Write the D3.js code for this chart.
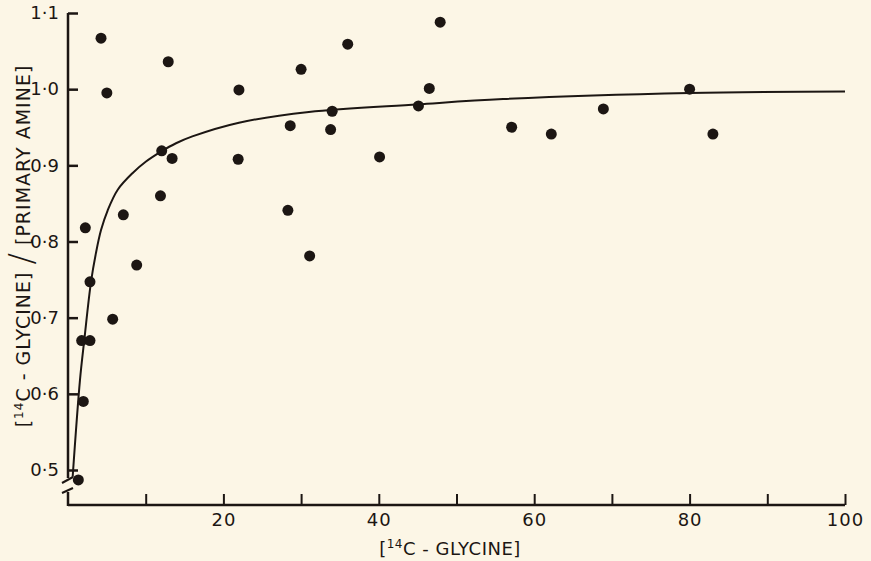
<!DOCTYPE html>
<html>
<head>
<meta charset="utf-8">
<script src="https://cdn.jsdelivr.net/npm/d3@7"></script>
<style>
  html, body { margin: 0; padding: 0; background: #fcf6e6; }
  svg { display: block; }
  text { font-family: "DejaVu Sans", sans-serif; fill: #1c1613; }
</style>
</head>
<body>
<svg id="chart" width="871" height="561"></svg>
<script>
// measured points: [14C-glycine] vs ratio
const glycine = [4.25, 5.0, 12.9, 22.0, 30.0, 36.0, 47.9, 46.5, 45.1, 34.0, 33.8, 28.6,
  13.4, 12.06, 21.9, 40.1, 11.9, 7.12, 2.23, 28.3, 31.1, 8.84, 2.83, 5.75, 1.76, 2.83,
  1.97, 1.33, 57.1, 62.2, 68.9, 80.0, 83.0];
const ratio = [1.067, 0.995, 1.036, 0.999, 1.026, 1.059, 1.088, 1.001, 0.978, 0.971, 0.947, 0.952,
  0.909, 0.919, 0.908, 0.911, 0.860, 0.835, 0.818, 0.841, 0.781, 0.769, 0.747, 0.698, 0.670, 0.670,
  0.590, 0.487, 0.950, 0.941, 0.974, 1.000, 0.941];

// fitted curve
const curveGlycine = [0.6, 1.54, 2.1, 2.96, 3.6, 4.25, 5.11, 6.4, 8.33, 10.04, 11.97, 13.9, 16, 22, 31, 45, 56, 80, 100];
const curveRatio = [0.491, 0.618, 0.671, 0.747, 0.785, 0.815, 0.841, 0.868, 0.890, 0.905, 0.918, 0.929, 0.938, 0.956, 0.970, 0.980, 0.987, 0.995, 0.997];

const xTicks = [10, 20, 30, 40, 50, 60, 70, 80, 90, 100];
const xTickLabels = [20, 40, 60, 80, 100];
const yTicks = [0.5, 0.6, 0.7, 0.8, 0.9, 1.0, 1.1];

const svg = d3.select("#chart");
const ink = "#1c1613";

const x = d3.scaleLinear().domain([0, 100]).range([68, 845]);
const y = d3.scaleLinear().domain([0.5, 1.1]).range([470, 13]);
const baseY = 505;

// X axis
const xAxis = svg.append("g")
  .attr("transform", `translate(0,${baseY})`)
  .call(d3.axisBottom(x)
    .tickValues(xTicks)
    .tickSize(-11)
    .tickPadding(8)
    .tickFormat(d => xTickLabels.includes(d) ? d : ""));
xAxis.select(".domain").remove();
xAxis.selectAll(".tick line").attr("stroke", ink).attr("stroke-width", 2);
xAxis.selectAll(".tick text").style("font-size", "18px").style("letter-spacing", "1px").attr("fill", ink);

svg.append("line")
  .attr("x1", x(0)).attr("x2", x(100))
  .attr("y1", baseY).attr("y2", baseY)
  .attr("stroke", ink).attr("stroke-width", 2.5);

// Y axis
const yAxis = svg.append("g")
  .attr("transform", `translate(${x(0)},0)`)
  .call(d3.axisLeft(y)
    .tickValues(yTicks)
    .tickSize(-10)
    .tickPadding(9)
    .tickFormat(d => d3.format(".1f")(d).replace(".", "·")));
yAxis.select(".domain").remove();
yAxis.selectAll(".tick line").attr("stroke", ink).attr("stroke-width", 2.5);
yAxis.selectAll(".tick text").style("font-size", "18px").attr("fill", ink);

// axis line with a break near the bottom
svg.append("line")
  .attr("x1", x(0)).attr("x2", x(0))
  .attr("y1", y(1.1)).attr("y2", 478)
  .attr("stroke", ink).attr("stroke-width", 2.5);
svg.append("line")
  .attr("x1", x(0)).attr("x2", x(0))
  .attr("y1", 492).attr("y2", baseY + 1)
  .attr("stroke", ink).attr("stroke-width", 2.5);
[[483, 477], [493, 488]].forEach(([a, b]) => {
  svg.append("line")
    .attr("x1", x(0) - 6).attr("y1", a)
    .attr("x2", x(0) + 5).attr("y2", b)
    .attr("stroke", ink).attr("stroke-width", 2);
});

// Curve
const curveData = curveGlycine.map((g, i) => ({ g: g, r: curveRatio[i] }));
svg.append("path")
  .datum(curveData)
  .attr("fill", "none")
  .attr("stroke", ink)
  .attr("stroke-width", 2)
  .attr("d", d3.line()
    .x(d => x(d.g))
    .y(d => y(d.r))
    .curve(d3.curveCatmullRom));

// Points
const points = glycine.map((g, i) => ({ g: g, r: ratio[i] }));
svg.selectAll(".dot")
  .data(points)
  .enter()
  .append("circle")
  .attr("class", "dot")
  .attr("cx", d => x(d.g))
  .attr("cy", d => y(d.r))
  .attr("r", 5.5)
  .attr("fill", ink);

// X title
const xt = svg.append("text")
  .attr("x", 450)
  .attr("y", 555)
  .attr("text-anchor", "middle")
  .style("font-size", "18px")
  .style("letter-spacing", "0.5px");
xt.append("tspan").text("[");
xt.append("tspan").attr("dy", -7).style("font-size", "12px").text("14");
xt.append("tspan").attr("dy", 7).text("C - GLYCINE]");

// Y title
const yt = svg.append("text")
  .attr("transform", "translate(30,246) rotate(-90)")
  .attr("text-anchor", "middle")
  .style("font-size", "19px")
  .style("letter-spacing", "1px");
yt.append("tspan").text("[");
yt.append("tspan").attr("dy", -7).style("font-size", "12px").text("14");
yt.append("tspan").attr("dy", 7).text("C - GLYCINE] ");
yt.append("tspan").style("font-size", "34px").style("font-weight", "200").attr("dy", 3).text("/");
yt.append("tspan").attr("dy", -3).text(" [PRIMARY AMINE]");
</script>
</body>
</html>
